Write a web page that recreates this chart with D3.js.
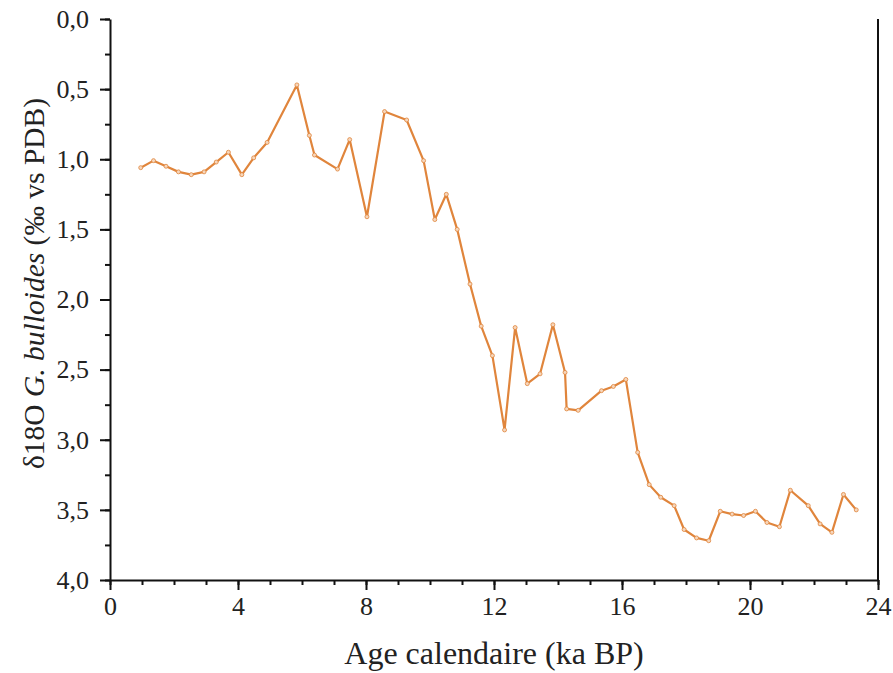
<!DOCTYPE html>
<html>
<head>
<meta charset="utf-8">
<script src="https://cdn.jsdelivr.net/npm/d3@7"></script>
<style>
  body { margin: 0; background: #fff; }
</style>
</head>
<body>
<svg id="chart"></svg>
<script>
// age (ka BP) and d18O values
const ages = [0.96, 1.36, 1.75, 2.14, 2.54, 2.94, 3.32, 3.70, 4.12, 4.49, 4.91, 5.84,
  6.23, 6.39, 7.11, 7.49, 8.03, 8.58, 9.27, 9.80, 10.15, 10.51, 10.85, 11.25, 11.60,
  11.95, 12.33, 12.66, 13.04, 13.44, 13.84, 14.22, 14.27, 14.63, 15.36, 15.73, 16.12,
  16.49, 16.85, 17.21, 17.63, 17.94, 18.33, 18.71, 19.07, 19.44, 19.80, 20.17, 20.53,
  20.92, 21.26, 21.82, 22.19, 22.56, 22.92, 23.32];
const d18O = [1.06, 1.01, 1.05, 1.09, 1.11, 1.09, 1.02, 0.95, 1.11, 0.99, 0.88, 0.47,
  0.83, 0.97, 1.07, 0.86, 1.41, 0.66, 0.72, 1.01, 1.43, 1.25, 1.50, 1.89, 2.19,
  2.40, 2.93, 2.20, 2.60, 2.53, 2.18, 2.52, 2.78, 2.79, 2.65, 2.62, 2.57,
  3.09, 3.32, 3.41, 3.47, 3.64, 3.70, 3.72, 3.51, 3.53, 3.54, 3.51, 3.59,
  3.62, 3.36, 3.47, 3.60, 3.66, 3.39, 3.50];

const xMajor = [0, 4, 8, 12, 16, 20, 24];
const yMajor = [0, 0.5, 1, 1.5, 2, 2.5, 3, 3.5, 4];

const FONT = 'Liberation Serif';
const width = 893, height = 673;
const svg = d3.select('#chart').attr('width', width).attr('height', height);

const x = d3.scaleLinear().domain([0, 24]).range([110, 878]);
const y = d3.scaleLinear().domain([0, 4]).range([19, 580]);

const comma = d => d3.format('.1f')(d).replace('.', ',');

// minor ticks
svg.append('g')
  .attr('transform', 'translate(0,580)')
  .call(d3.axisBottom(x).tickValues(d3.range(0, 25, 1)).tickSize(5).tickFormat(''))
  .call(g => g.select('.domain').remove());
svg.append('g')
  .attr('transform', 'translate(110,0)')
  .call(d3.axisLeft(y).tickValues(d3.range(0, 4.01, 0.25)).tickSize(5).tickFormat(''))
  .call(g => g.select('.domain').remove());

// major ticks and labels
let xAxis = svg.append('g')
  .attr('transform', 'translate(0,580)')
  .call(d3.axisBottom(x).tickValues(xMajor).tickSize(10).tickSizeOuter(0).tickPadding(6));
xAxis.selectAll('text').attr('font-size', 26).attr('dy', '0.72em');

let yAxis = svg.append('g')
  .attr('transform', 'translate(110,0)')
  .call(d3.axisLeft(y).tickValues(yMajor).tickSize(10).tickSizeOuter(0).tickPadding(11).tickFormat(comma));
yAxis.selectAll('text').attr('font-size', 26);

svg.selectAll('.tick line, .domain').attr('stroke', '#111').attr('stroke-width', 2);

// right frame line
svg.append('line')
  .attr('x1', x(24)).attr('x2', x(24))
  .attr('y1', y(0)).attr('y2', y(4))
  .attr('stroke', '#111').attr('stroke-width', 2);

// data line
const pts = ages.map((a, i) => [a, d18O[i]]);
svg.append('path')
  .datum(pts)
  .attr('fill', 'none')
  .attr('stroke', '#e0853c')
  .attr('stroke-width', 2.2)
  .attr('stroke-linejoin', 'round')
  .attr('d', d3.line().x(d => x(d[0])).y(d => y(d[1])));

svg.selectAll('.pt')
  .data(pts)
  .enter()
  .append('circle')
  .classed('pt', true)
  .attr('cx', d => x(d[0]))
  .attr('cy', d => y(d[1]))
  .attr('r', 2)
  .attr('fill', '#f6d6bb')
  .attr('stroke', '#e0853c')
  .attr('stroke-width', 0.8);

// axis titles
svg.append('text')
  .attr('x', (x(0) + x(24)) / 2)
  .attr('y', 664)
  .attr('text-anchor', 'middle')
  .attr('font-size', 32)
  .text('Age calendaire (ka BP)');

let yt = svg.append('text')
  .attr('transform', 'translate(44,' + (y(2) - 16) + ') rotate(-90)')
  .attr('text-anchor', 'middle')
  .attr('font-size', 29.5);
yt.append('tspan').text('δ18O ');
yt.append('tspan').attr('font-style', 'italic').text('G. bulloides');
yt.append('tspan').text(' (‰ vs PDB)');

svg.selectAll('g').attr('font-family', null);
svg.selectAll('text').attr('font-family', FONT).attr('fill', '#222');
</script>
</body>
</html>
